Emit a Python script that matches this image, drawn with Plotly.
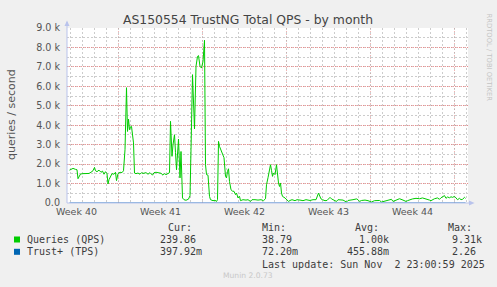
import plotly.graph_objects as go
import pandas as pd

# ---------------- data ----------------
START = "2025-09-30 17:00"      # left edge of the graph (33 days window)
SPAN_HOURS = 802

# Queries (QPS): hours since START, value in thousands of queries/s
qps_hours = [5, 8, 12, 17, 20, 22, 24, 27, 32, 38,
             44, 48, 52, 55, 57, 60, 64, 68, 71, 74,
             77, 80, 82, 84, 87, 90, 94, 97, 99, 102,
             106, 110, 113, 116, 119, 121, 123, 125, 127, 129,
             133, 135,
             138, 142, 146, 149, 152, 158, 162, 166, 171, 174,
             178, 182, 188, 192, 195, 198, 202, 205,
             207, 210, 212, 215, 217, 219, 223, 226, 228, 231,
             234, 238, 243, 246, 248, 251, 255, 258, 261, 263,
             266, 269, 272, 275, 277, 279, 282, 285, 287, 292,
             296, 299, 301, 303, 305, 309, 311, 314, 317, 319,
             321, 323, 325, 328, 331, 334, 337, 339, 342, 345,
             347, 352, 358, 362, 367, 370, 376, 382, 388, 393,
             397, 399, 402, 405, 407, 409, 411, 413, 416, 419,
             421, 423, 425, 427, 429, 431, 436, 439, 443, 446,
             450, 456, 460, 466, 472, 478, 486, 492, 498, 503,
             505, 506, 508, 511, 516, 520, 523, 526, 529, 533,
             536, 539, 542, 546, 552, 559, 562, 572, 579, 582,
             585, 589, 596, 602, 609, 615, 625, 629, 635, 642,
             649, 652, 659, 665, 672, 678, 681, 685, 691, 698,
             705, 711, 718, 725, 728, 735, 741, 745, 748, 751,
             755, 758, 761, 765, 768, 771, 775, 778, 781, 785,
             788, 791, 795, 797]
qps_k = [1.69, 1.74, 1.78, 1.73, 1.71, 1.25, 1.38, 1.49, 1.51, 1.53,
         1.52, 1.58, 1.66, 1.83, 1.66, 1.61, 1.69, 1.58, 1.64, 1.48,
         1.61, 1.51, 0.98, 1.20, 1.38, 1.51, 1.48, 1.58, 1.15, 1.51,
         1.58, 1.56, 1.66, 2.74, 5.93, 3.68, 4.32, 3.77, 3.92, 3.94,
         3.09, 1.54,
         1.51, 1.54, 1.48, 1.56, 1.52, 1.56, 1.48, 1.56, 1.43, 1.56,
         1.58, 1.57, 1.53, 1.43, 1.51, 1.46, 1.53, 1.56,
         4.20, 2.40, 3.00, 3.51, 2.59, 1.71, 3.29, 1.29, 2.65, 0.26,
         0.17, 0.14, 0.20, 0.38, 2.74, 6.60, 3.81, 7.03, 7.54, 7.58,
         7.03, 6.94, 7.28, 8.37, 1.97, 1.46, 1.43, 0.34, 0.17, 0.12,
         0.14, 0.08, 0.17, 3.17, 2.91, 2.65, 2.45, 2.33, 1.37, 1.29,
         1.63, 1.76, 1.11, 0.68, 0.61, 0.60, 0.43, 0.51, 0.26, 0.34,
         0.12, 0.17, 0.15, 0.17, 0.08, 0.17, 0.17, 0.15, 0.17, 0.12,
         0.22, 0.94, 1.30, 1.87, 1.97, 1.68, 1.37, 1.54, 1.46, 1.97,
         1.37, 1.03, 0.85, 1.03, 0.51, 0.34, 0.26, 0.17, 0.08, 0.13,
         0.17, 0.12, 0.17, 0.15, 0.12, 0.17, 0.13, 0.17, 0.17, 0.51,
         0.34, 0.26, 0.21, 0.17, 0.12, 0.13, 0.21, 0.29, 0.21, 0.17,
         0.12, 0.08, 0.17, 0.15, 0.15, 0.05, 0.13, 0.17, 0.21, 0.17,
         0.08, 0.13, 0.15, 0.12, 0.05, 0.12, 0.13, 0.05, 0.08, 0.15,
         0.19, 0.08, 0.15, 0.22, 0.15, 0.08, 0.12, 0.17, 0.21, 0.24,
         0.22, 0.26, 0.22, 0.15, 0.12, 0.22, 0.26, 0.19, 0.27, 0.32,
         0.38, 0.24, 0.31, 0.27, 0.32, 0.29, 0.34, 0.26, 0.17, 0.24,
         0.17, 0.19, 0.29, 0.24]

# Trust+ (TPS): sparse estimates (flat near zero on this scale)
tps_hours = [5, 120, 250, 400, 560, 700, 797]
tps_values = [0.45, 0.62, 2.26, 0.38, 0.072, 0.41, 0.398]

week_labels = ["Week 40", "Week 41", "Week 42", "Week 43", "Week 44"]
week_mid = ["2025-10-01 12:00", "2025-10-08 12:00", "2025-10-15 12:00",
            "2025-10-22 12:00", "2025-10-29 12:00"]
week_starts = ["2025-10-05", "2025-10-12", "2025-10-19", "2025-10-26", "2025-11-02"]

y_tickvals = [0, 1000, 2000, 3000, 4000, 5000, 6000, 7000, 8000, 9000]
y_ticktext = ["0.0", "1.0 k", "2.0 k", "3.0 k", "4.0 k", "5.0 k", "6.0 k",
              "7.0 k", "8.0 k", "9.0 k"]

series_names = ["Queries (QPS)", "Trust+ (TPS)"]
series_colors = ["#00CC00", "#0066B3"]
stat_cur = ["239.86", "397.92m"]
stat_min = ["38.79", "72.20m"]
stat_avg = ["1.00k", "455.88m"]
stat_max = ["9.31k", "2.26"]
last_update = "Last update: Sun Nov \u00a02 23:00:59 2025"

TITLE = "AS150554 TrustNG Total QPS - by month"
YLABEL = "queries / second"

# ---------------- figure ----------------
W, H = 497, 287
L, R, T, B = 67, 468, 28, 203   # plot area in pixels

def px(x):
    return (x - L) / (R - L)

def py(y):
    return (B - y) / (B - T)

start = pd.Timestamp(START)
qps_t = [start + pd.Timedelta(hours=h) for h in qps_hours]
qps = [v * 1000 for v in qps_k]
tps_t = [start + pd.Timedelta(hours=h) for h in tps_hours]
end = start + pd.Timedelta(hours=SPAN_HOURS)

RED = "rgba(240,120,120,0.75)"
RED_V = "rgba(240,130,130,0.6)"
GRAY = "rgba(170,170,170,0.6)"
AXIS = "#b9c3ec"
FONT = "DejaVu Sans"
MONO = "DejaVu Sans Mono"

fig = go.Figure()
fig.add_trace(go.Scatter(x=qps_t, y=qps, mode="lines",
                         line=dict(color=series_colors[0], width=1),
                         name=series_names[0]))
fig.add_trace(go.Scatter(x=tps_t, y=tps_values, mode="lines",
                         line=dict(color=series_colors[1], width=1),
                         name=series_names[1]))

shapes = []
for ws in week_starts:
    shapes.append(dict(type="line", xref="x", yref="paper", x0=ws, x1=ws,
                       y0=0, y1=1, layer="between",
                       line=dict(color=RED_V, width=1, dash="1px,2px")))
# axis arrows
shapes.append(dict(type="line", xref="paper", yref="paper",
                   x0=0, x1=0, y0=0, y1=py(22), line=dict(color=AXIS, width=1)))
shapes.append(dict(type="path", xref="paper", yref="paper",
                   path=f"M {px(64.5)} {py(26)} L {px(69.5)} {py(26)} L {px(67)} {py(20.5)} Z",
                   fillcolor=AXIS, line=dict(color=AXIS, width=0)))
shapes.append(dict(type="line", xref="paper", yref="paper",
                   x0=0, x1=px(470), y0=0, y1=0, line=dict(color=AXIS, width=1)))
shapes.append(dict(type="path", xref="paper", yref="paper",
                   path=f"M {px(469)} {py(200.5)} L {px(469)} {py(205.5)} L {px(474.5)} {py(203)} Z",
                   fillcolor=AXIS, line=dict(color=AXIS, width=0)))
# legend swatches
for i, c in enumerate(series_colors):
    yc = 239.5 + 12.3 * i
    shapes.append(dict(type="rect", xref="paper", yref="paper",
                       x0=px(14), x1=px(20), y0=py(yc - 3), y1=py(yc + 3),
                       fillcolor=c, line=dict(width=0)))

ann = []
def text(x, y, s, size, color, family=FONT, xanchor="left", angle=0):
    ann.append(dict(xref="paper", yref="paper", x=px(x), y=py(y), text=s,
                    showarrow=False, xanchor=xanchor, yanchor="middle",
                    borderpad=0, textangle=angle,
                    font=dict(family=family, size=size, color=color)))

text(247.5, 19.5, TITLE, 12.4, "#444444", xanchor="center")
text(11, 115, YLABEL, 11, "#555555", xanchor="center", angle=-90)
text(489, 57.5, "RRDTOOL / TOBI OETIKER", 6.8, "#c4c4c4", xanchor="center", angle=90)
text(247.7, 275.7, "Munin 2.0.73", 7.6, "#c8c8c8", xanchor="center")

MC = "#3c3c3c"
text(166.7, 227.7, "Cur:", 10, MC, MONO)
text(260.7, 227.7, "Min:", 10, MC, MONO)
text(354.3, 227.7, "Avg:", 10, MC, MONO)
text(446.7, 227.7, "Max:", 10, MC, MONO)
for i in range(2):
    yc = 239.3 + 12.4 * i
    text(26, yc, series_names[i], 10, MC, MONO)
    text(202.7 if i else 196.7, yc, stat_cur[i], 10, MC, MONO, xanchor="right")
    text(260.7, yc, stat_min[i], 10, MC, MONO)
    text(390, yc, stat_avg[i], 10, MC, MONO, xanchor="right")
    text(482.7 if i == 0 else 476.7, yc, stat_max[i], 10, MC, MONO, xanchor="right")
text(260.7, 264, last_update, 10, MC, MONO)

fig.update_layout(
    width=W, height=H,
    margin=dict(l=L, r=W - R, t=T, b=H - B, pad=0),
    paper_bgcolor="#F0F0F0", plot_bgcolor="#FFFFFF",
    showlegend=False,
    shapes=shapes, annotations=ann,
    font=dict(family=FONT, size=9.5, color="#555555"),
    xaxis=dict(type="date", range=[start, end], tickmode="array",
               tickvals=week_mid, ticktext=week_labels, showgrid=False,
               zeroline=False, showline=False, ticks="", ticklabelstandoff=1,
               tickfont=dict(size=9.5, color="#555555"),
               minor=dict(tickmode="linear", tick0="2025-09-28", dtick=86400000,
                          showgrid=True, gridcolor=GRAY, griddash="2px,2px",
                          gridwidth=1, ticks="")),
    yaxis=dict(range=[0, 9000], tickmode="array", tickvals=y_tickvals,
               ticktext=y_ticktext, showgrid=True, gridcolor=RED,
               griddash="1px,1px", gridwidth=1, zeroline=False, showline=False,
               ticks="", ticklabelstandoff=6,
               tickfont=dict(size=9.6, color="#555555"),
               minor=dict(tickmode="linear", tick0=0, dtick=500, showgrid=True,
                          gridcolor=GRAY, griddash="2px,2px", gridwidth=1,
                          ticks="")),
)

fig.write_html("out.html")
